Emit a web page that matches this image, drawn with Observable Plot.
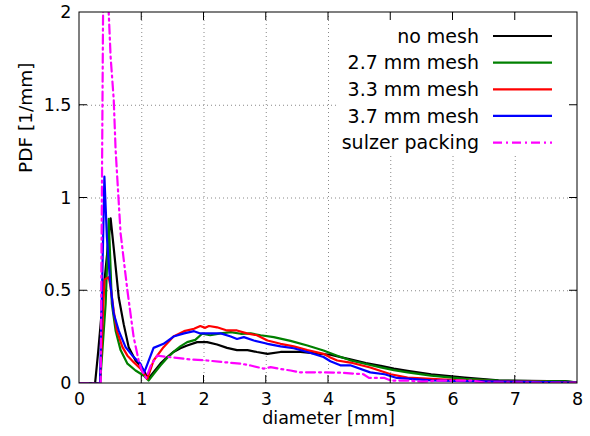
<!DOCTYPE html>
<html><head><meta charset="utf-8">
<script src="https://cdn.jsdelivr.net/npm/d3@7"></script>
<script src="https://cdn.jsdelivr.net/npm/@observablehq/plot@0.6"></script>
<style>body{margin:0;background:#fff} svg{display:block}</style>
</head><body><div id="chart"></div>
<script>
const xTicks = [0,1,2,3,4,5,6,7,8];
const yTicks = [0,0.5,1,1.5,2];
const seriesNames = ["no mesh","2.7 mm mesh","3.3 mm mesh","3.7 mm mesh","sulzer packing"];
const seriesColors = ["#000000","#008000","#ff0000","#0000ff","#ff00ff"];

const diaNoMesh = [0,0.25,0.3,0.4,0.5,0.55,0.63,0.71,0.79,0.9,1.0,1.06,1.11,1.2,1.3,1.4,1.51,1.62,1.73,1.89,2.05,2.21,2.37,2.53,2.7,2.85,3.02,3.23,3.55,3.87,4.03,4.35,4.6,4.84,5.05,5.27,5.65,6.19,6.73,7.2,7.53,7.8,8];
const pdfNoMesh = [0,0,0.17,0.55,0.89,0.73,0.465,0.32,0.196,0.124,0.088,0.053,0.027,0.065,0.107,0.14,0.17,0.19,0.205,0.223,0.223,0.21,0.192,0.18,0.18,0.17,0.16,0.17,0.17,0.16,0.155,0.13,0.11,0.095,0.08,0.068,0.05,0.032,0.017,0.014,0.013,0.013,0.004];

const diaMesh27 = [0,0.33,0.36,0.42,0.47,0.52,0.58,0.66,0.77,0.9,1.03,1.11,1.2,1.3,1.4,1.51,1.62,1.73,1.86,1.97,2.1,2.27,2.43,2.59,2.75,2.91,3.12,3.39,3.66,3.92,4.14,4.35,4.6,4.84,5.05,5.27,5.65,6.19,6.73,7.3,7.8,8];
const pdfMesh27 = [0,0,0.14,0.43,0.888,0.43,0.285,0.18,0.107,0.07,0.043,0.016,0.055,0.097,0.135,0.17,0.2,0.223,0.235,0.268,0.26,0.27,0.277,0.268,0.27,0.26,0.25,0.23,0.205,0.178,0.15,0.125,0.105,0.087,0.072,0.06,0.042,0.025,0.015,0.013,0.012,0.006];

const diaMesh33 = [0,0.33,0.4,0.47,0.5,0.55,0.6,0.69,0.77,0.87,0.98,1.09,1.19,1.35,1.51,1.68,1.84,1.94,2.02,2.08,2.21,2.37,2.53,2.69,2.85,3.02,3.23,3.44,3.66,3.92,4.03,4.14,4.35,4.67,5.0,5.27,5.65,6.19,7.26,8];
const pdfMesh33 = [0,0,0.56,0.573,0.52,0.39,0.285,0.196,0.15,0.115,0.08,0.025,0.124,0.196,0.253,0.282,0.295,0.31,0.30,0.31,0.303,0.286,0.286,0.27,0.26,0.232,0.214,0.2,0.18,0.16,0.14,0.124,0.113,0.086,0.05,0.032,0.025,0.015,0.01,0.005];

const diaMesh37 = [0,0.33,0.4,0.44,0.49,0.55,0.63,0.74,0.85,0.98,1.04,1.19,1.35,1.51,1.68,1.84,1.94,2.1,2.27,2.43,2.53,2.64,2.8,3.02,3.23,3.44,3.66,3.92,4.03,4.19,4.35,4.67,4.9,5.1,5.65,6.19,7.0,8];
const pdfMesh37 = [0,0,1.116,0.79,0.555,0.376,0.285,0.196,0.15,0.106,0.06,0.192,0.214,0.253,0.27,0.282,0.27,0.27,0.27,0.253,0.24,0.25,0.232,0.214,0.2,0.19,0.17,0.143,0.12,0.098,0.098,0.06,0.05,0.03,0.017,0.013,0.01,0.005];

const diaSulzer = [0,0.34,0.39,0.45,0.5,0.55,0.58,0.66,0.77,0.87,0.95,1.0,1.07,1.15,1.25,1.5,1.78,2.05,2.32,2.59,2.75,2.96,3.07,3.2,3.39,3.55,3.92,4.2,4.56,4.65,4.9,5.0,5.27,5.5,5.8,6.3,6.5,7,8];
const pdfSulzer = [0,0,2.6,2.15,1.76,1.53,1.26,0.81,0.5,0.25,0.124,0.07,0.03,0.1,0.15,0.14,0.13,0.124,0.115,0.107,0.097,0.08,0.088,0.08,0.07,0.06,0.06,0.058,0.05,0.03,0.03,0.016,0.016,0.01,0.016,0.016,0.005,0.005,0.003];

const dias = [diaNoMesh, diaMesh27, diaMesh33, diaMesh37, diaSulzer];
const pdfs = [pdfNoMesh, pdfMesh27, pdfMesh33, pdfMesh37, pdfSulzer];
const dashes = [null, null, null, null, "9,4,2,4"];

const tables = seriesNames.map((name, i) => dias[i].map((d, j) => ({d, p: pdfs[i][j], name})));

const W = 590, H = 436;
const plot = Plot.plot({
  width: W, height: H,
  marginLeft: 79, marginRight: 13, marginTop: 12, marginBottom: 53,
  style: {fontFamily: "DejaVu Sans", fontSize: "17px", background: "#fff", color: "#000"},
  x: {domain: [0, 8], label: null},
  y: {domain: [0, 2], label: null},
  marks: [
    Plot.gridX(xTicks.slice(1, -1), {stroke: "#888", strokeOpacity: 1, strokeDasharray: "1,3", strokeWidth: 1}),
    Plot.gridY(yTicks.slice(1, -1), {stroke: "#888", strokeOpacity: 1, strokeDasharray: "1,3", strokeWidth: 1}),
    ...tables.map((t, i) => Plot.line(t, {x: "d", y: "p", stroke: seriesColors[i], strokeWidth: 2.2,
      strokeDasharray: dashes[i] || undefined, clip: true})),
    Plot.axisX(xTicks, {tickSize: 0, tickPadding: 9, fontSize: 17.5, tickFormat: d => String(d)}),
    Plot.axisY(yTicks, {tickSize: 0, tickPadding: 8, fontSize: 17.5, tickFormat: d => String(d)}),
    Plot.text(["diameter [mm]"], {frameAnchor: "bottom", dy: 35, fontSize: 17.5, lineAnchor: "middle"}),
    Plot.text(["PDF [1/mm]"], {frameAnchor: "left", dx: -53, dy: -25, rotate: -90, fontSize: 18.5, lineAnchor: "middle"})
  ]
});
document.getElementById("chart").appendChild(plot);

const svg = d3.select(plot);
const sx = plot.scale("x"), sy = plot.scale("y");
const X0 = sx.apply(0), X1 = sx.apply(8), Y0 = sy.apply(0), Y1 = sy.apply(2);

// opaque key box
const key = svg.append("g");
key.append("rect").attr("x", 336).attr("y", Y1 + 0.5).attr("width", X1 - 336 - 0.5).attr("height", 141).attr("fill", "#fff");
seriesNames.forEach((name, i) => {
  const yy = Y1 + 24 + 26.65 * i;
  key.append("text").attr("x", X1 - 98).attr("y", yy).attr("dy", "0.35em").attr("text-anchor", "end")
    .attr("font-family", "DejaVu Sans").attr("font-size", 19).attr("fill", "#000").text(name);
  key.append("line").attr("x1", X1 - 84).attr("x2", X1 - 25).attr("y1", yy).attr("y2", yy)
    .attr("stroke", seriesColors[i]).attr("stroke-width", 2.2).attr("stroke-dasharray", dashes[i]);
});

// frame and inward ticks (mirrored)
const tk = svg.append("g").attr("stroke", "#000").attr("stroke-width", 1);
tk.append("rect").attr("x", X0).attr("y", Y1).attr("width", X1 - X0).attr("height", Y0 - Y1).attr("fill", "none");
xTicks.slice(1, -1).forEach(v => {
  const px = sx.apply(v);
  tk.append("line").attr("x1", px).attr("x2", px).attr("y1", Y0).attr("y2", Y0 - 8);
  tk.append("line").attr("x1", px).attr("x2", px).attr("y1", Y1).attr("y2", Y1 + 8);
});
yTicks.slice(1, -1).forEach(v => {
  const py = sy.apply(v);
  tk.append("line").attr("x1", X0).attr("x2", X0 + 8).attr("y1", py).attr("y2", py);
  tk.append("line").attr("x1", X1).attr("x2", X1 - 8).attr("y1", py).attr("y2", py);
});
</script>
</body></html>
